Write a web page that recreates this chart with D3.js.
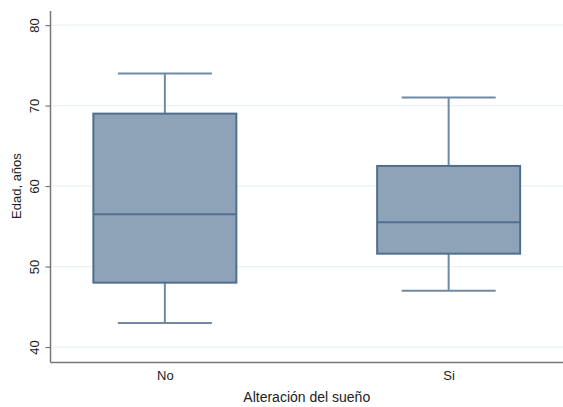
<!DOCTYPE html>
<html><head><meta charset="utf-8">
<script src="https://cdn.jsdelivr.net/npm/d3@7"></script>
<style>body{margin:0;background:#fff}svg{display:block}</style>
</head><body>
<script>
const categories = ["No", "Si"];
const whiskerLow = [43, 47];
const q1 = [48, 51.6];
const median = [56.5, 55.5];
const q3 = [69, 62.5];
const whiskerHigh = [74, 71];
const yTicks = [40, 50, 60, 70, 80];

(function(){
const W = 563, H = 407;
const mL = 50.5, mR = 563, mT = 11, mB = 362.5;
const font = "Liberation Sans, Arial, sans-serif";
const svg = d3.select("body").append("svg").attr("width", W).attr("height", H);

const y = d3.scaleLinear().domain([38.08, 81.75]).range([mB, mT]);
const x = d3.scalePoint().domain(categories).range([mL, mR]).padding(0.403);

// grid
svg.append("g").selectAll("line").data(yTicks).join("line")
  .attr("x1", mL).attr("x2", mR)
  .attr("y1", d => y(d)).attr("y2", d => y(d))
  .attr("stroke", "#eaf2f3").attr("stroke-width", 1.2);

const fill = "#8ea3b7", stroke = "#4f6f8f", wcol = "#6e8aa4";
const boxW = 143, capW = 94;
const data = categories.map((c, i) => ({c, lo: whiskerLow[i], q1: q1[i], med: median[i], q3: q3[i], hi: whiskerHigh[i]}));
const g = svg.append("g").selectAll("g").data(data).join("g");
g.append("line").attr("x1", d => x(d.c)).attr("x2", d => x(d.c))
  .attr("y1", d => y(d.hi)).attr("y2", d => y(d.q3)).attr("stroke", wcol).attr("stroke-width", 2);
g.append("line").attr("x1", d => x(d.c)).attr("x2", d => x(d.c))
  .attr("y1", d => y(d.q1)).attr("y2", d => y(d.lo)).attr("stroke", wcol).attr("stroke-width", 2);
g.append("line").attr("x1", d => x(d.c) - capW/2).attr("x2", d => x(d.c) + capW/2)
  .attr("y1", d => y(d.hi)).attr("y2", d => y(d.hi)).attr("stroke", wcol).attr("stroke-width", 2);
g.append("line").attr("x1", d => x(d.c) - capW/2).attr("x2", d => x(d.c) + capW/2)
  .attr("y1", d => y(d.lo)).attr("y2", d => y(d.lo)).attr("stroke", wcol).attr("stroke-width", 2);
g.append("rect").attr("x", d => x(d.c) - boxW/2).attr("width", boxW)
  .attr("y", d => y(d.q3)).attr("height", d => y(d.q1) - y(d.q3))
  .attr("fill", fill).attr("stroke", stroke).attr("stroke-width", 2);
g.append("line").attr("x1", d => x(d.c) - boxW/2).attr("x2", d => x(d.c) + boxW/2)
  .attr("y1", d => y(d.med)).attr("y2", d => y(d.med)).attr("stroke", stroke).attr("stroke-width", 2);

// y axis
const ya = svg.append("g").attr("transform", `translate(${mL},0)`)
  .call(d3.axisLeft(y).tickValues(yTicks).tickSize(5));
ya.select(".domain").attr("stroke", "#777").attr("stroke-width", 1.5).attr("d", `M0,${mT}V${mB}`);
ya.selectAll(".tick line").attr("stroke", "#777").attr("stroke-width", 1.2);
ya.selectAll(".tick text").attr("font-family", font).attr("font-size", 13)
  .attr("fill", "#222").attr("text-anchor", "middle")
  .attr("x", null).attr("dy", null).attr("y", null)
  .attr("transform", "translate(-12,0) rotate(-90)");

// x axis
const xa = svg.append("g").attr("transform", `translate(0,${mB})`)
  .call(d3.axisBottom(x).tickSize(0).tickPadding(8));
xa.select(".domain").attr("stroke", "#777").attr("stroke-width", 1.5).attr("d", `M${mL},0H${mR}`);
xa.selectAll(".tick text").attr("font-family", font).attr("font-size", 13).attr("fill", "#222");

svg.append("text").attr("x", (mL + mR) / 2).attr("y", 402)
  .attr("text-anchor", "middle").attr("font-family", font)
  .attr("font-size", 14).attr("fill", "#222").text("Alteración del sueño");
svg.append("text").attr("transform", `translate(21,${y(60)}) rotate(-90)`)
  .attr("text-anchor", "middle").attr("font-family", font)
  .attr("font-size", 13).attr("fill", "#222").text("Edad, años");
})();
</script>
</body></html>
